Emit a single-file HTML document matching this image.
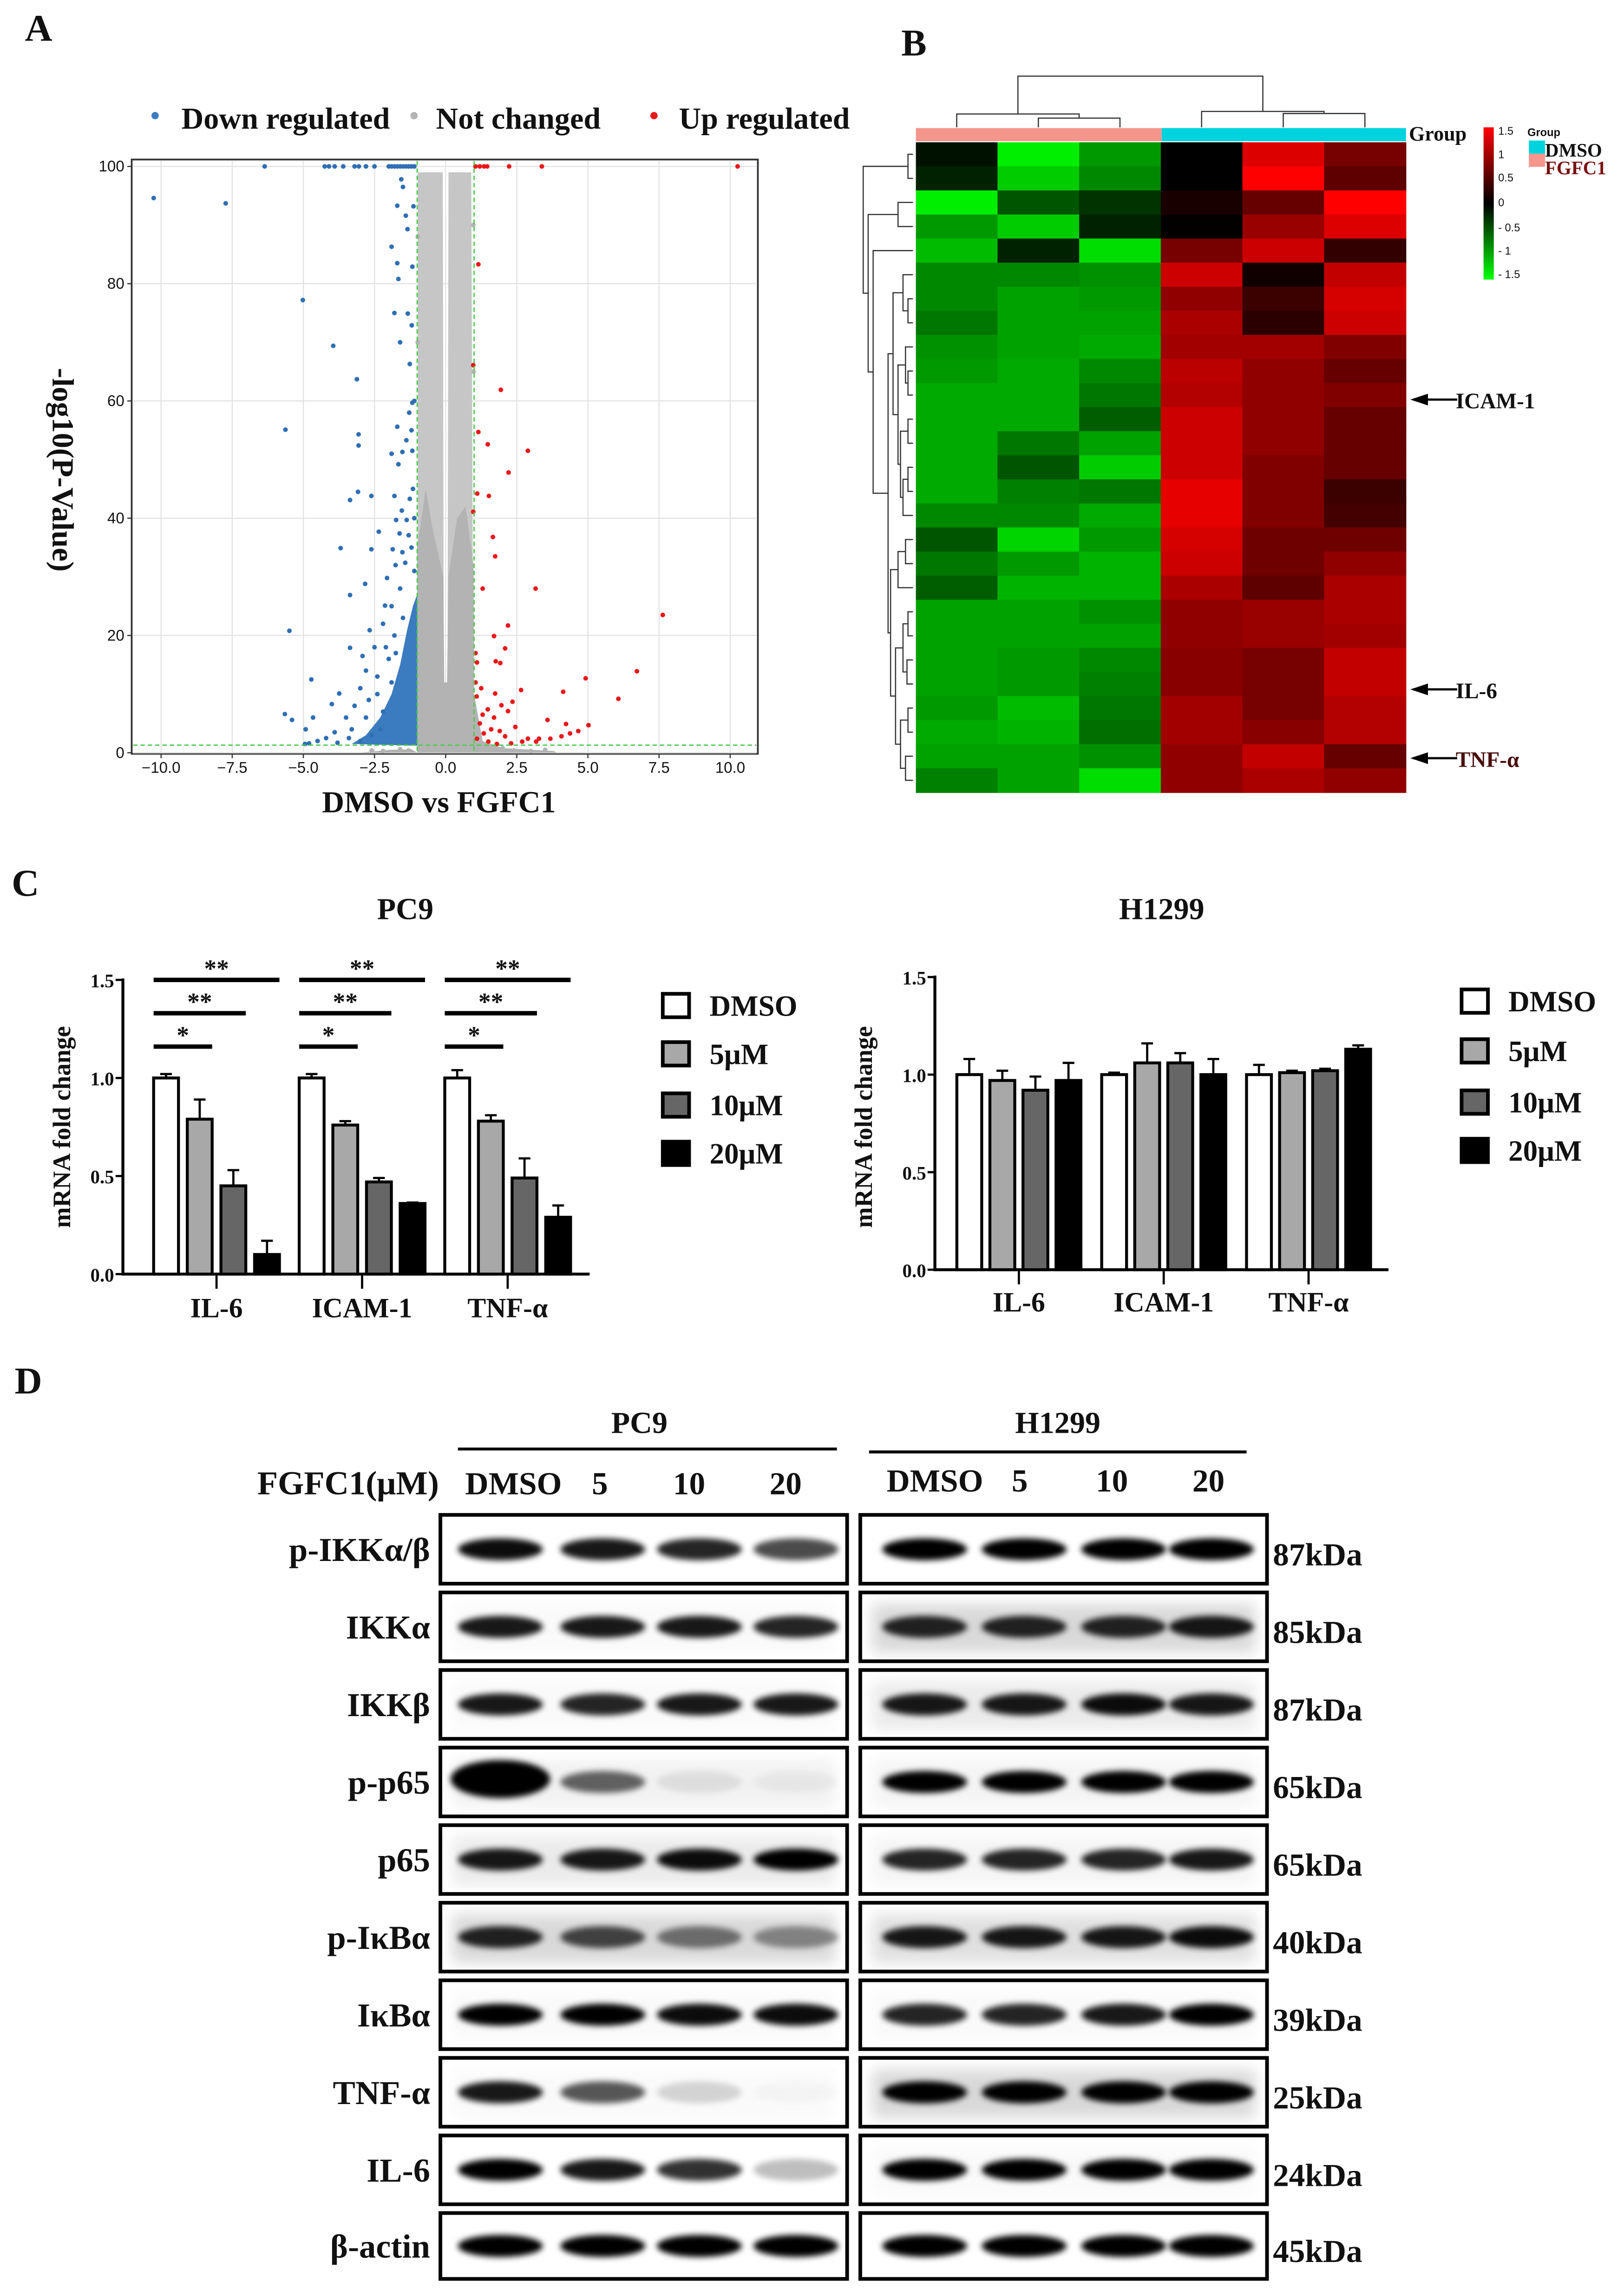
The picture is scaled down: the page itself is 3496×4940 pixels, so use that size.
<!DOCTYPE html>
<html><head><meta charset="utf-8"><title>FGFC1 figure</title>
<style>
html,body{margin:0;padding:0;background:#fff;}
svg{display:block;}
text{font-family:"Liberation Serif",serif;font-weight:bold;fill:#111;}
.sans{font-family:"Liberation Sans",sans-serif;font-weight:normal;}
</style></head>
<body>
<svg id="fig" xmlns="http://www.w3.org/2000/svg" width="3496" height="4940" viewBox="0 0 1110 1568" preserveAspectRatio="none">
<defs>
<filter id="blur" x="-30%" y="-80%" width="160%" height="260%"><feGaussianBlur stdDeviation="2"/></filter>
<filter id="blur2" x="-30%" y="-80%" width="160%" height="260%"><feGaussianBlur stdDeviation="5"/></filter>
<linearGradient id="cbar" x1="0" y1="0" x2="0" y2="1">
<stop offset="0" stop-color="#ff0000"/><stop offset="0.5" stop-color="#000"/><stop offset="1" stop-color="#00ff00"/>
</linearGradient>
</defs>
<rect x="0" y="0" width="1110" height="1568" fill="#fff"/>

<text x="17" y="28" font-size="26">A</text>
<text x="616" y="38" font-size="26">B</text>
<text x="8" y="612" font-size="26">C</text>
<text x="10" y="952" font-size="26">D</text>

<g id="panelA">
<rect x="90" y="109" width="428" height="406" fill="#fff" stroke="#333" stroke-width="1.2"/>
<g id="aGrid"></g>
<g id="aPoly"></g>
<g id="aPts"></g>
<g id="aThresh"></g>
<g id="aTicks"></g>
<text x="300" y="555" font-size="21" text-anchor="middle">DMSO vs FGFC1</text>
<text transform="translate(36,321) rotate(90)" font-size="21" text-anchor="middle">-log10(P-Value)</text>
<g>
<circle cx="106" cy="79" r="2.5" fill="#3b7bbf"/>
<text x="124" y="88" font-size="21">Down regulated</text>
<circle cx="283" cy="79" r="2.5" fill="#b3b3b3"/>
<text x="298" y="88" font-size="21">Not changed</text>
<circle cx="447" cy="79" r="2.5" fill="#e8191b"/>
<text x="464" y="88" font-size="21">Up regulated</text>
</g>
</g>

<g id="panelB">
<g id="bCells"></g>
<g id="bTop"></g>
<g id="bLeft"></g>
<rect x="626" y="87.5" width="168" height="9" fill="#f4968c"/>
<rect x="794" y="87.5" width="167" height="9" fill="#00d2de"/>
<text x="963" y="96" font-size="14">Group</text>
<rect x="1014" y="87" width="7" height="104" fill="url(#cbar)"/>
<g>
<text class="sans" x="1024" y="92" font-size="7.5">1.5</text>
<text class="sans" x="1024" y="108" font-size="7.5">1</text>
<text class="sans" x="1024" y="124" font-size="7.5">0.5</text>
<text class="sans" x="1024" y="141" font-size="7.5">0</text>
<text class="sans" x="1024" y="158" font-size="7.5">- 0.5</text>
<text class="sans" x="1024" y="174" font-size="7.5">- 1</text>
<text class="sans" x="1024" y="190" font-size="7.5">- 1.5</text>
</g>
<text class="sans" x="1044" y="93" font-size="7.5" style="font-weight:bold">Group</text>
<rect x="1045" y="96" width="11" height="9" fill="#00d2de"/>
<rect x="1045" y="105" width="11" height="9" fill="#f4968c"/>
<text x="1056" y="107" font-size="13">DMSO</text>
<text x="1056" y="119" font-size="13" style="fill:#7a1010">FGFC1</text>
<g>
<line x1="966" y1="273" x2="996" y2="273" stroke="#000" stroke-width="1.5"/>
<polygon points="964,273 976,269 976,277" fill="#000"/>
<text x="995" y="279" font-size="15">ICAM-1</text>
<line x1="966" y1="471" x2="996" y2="471" stroke="#000" stroke-width="1.5"/>
<polygon points="964,471 976,467 976,475" fill="#000"/>
<text x="995" y="477" font-size="15">IL-6</text>
<line x1="966" y1="518" x2="996" y2="518" stroke="#000" stroke-width="1.5"/>
<polygon points="964,518 976,514 976,522" fill="#000"/>
<text x="995" y="524" font-size="15" style="fill:#4a0c0c">TNF-α</text>
</g>
</g>

<g id="panelC">
<g id="cLeft"></g>
<g id="cRight"></g>
</g>

<g id="panelD">
<text x="437" y="979" font-size="21" text-anchor="middle">PC9</text>
<line x1="313" y1="990" x2="572" y2="990" stroke="#000" stroke-width="2"/>
<text x="723" y="979" font-size="21" text-anchor="middle">H1299</text>
<line x1="594" y1="992" x2="852" y2="992" stroke="#000" stroke-width="2"/>
<text x="300" y="1021" font-size="23" text-anchor="end">FGFC1(μM)</text>
<g id="dHead"></g>
<g id="dBlots"></g>
</g>
</svg>

<script>
const downPts = [[-10.26,94.6],[-7.73,93.7],[-5.02,77.2],[-3.95,69.4],[-3.12,63.7],[-5.63,55.1],[-3.06,54.3],[-3.06,52.4],[-3.08,44.5],[-3.36,43.1],[-2.61,43.8],[-2.35,37.7],[-3.69,34.9],[-2.61,34.7],[-2.83,28.8],[-3.36,26.9],[-5.49,20.8],[-2.13,25.1],[-2.67,20.9],[-3.36,17.9],[-2.92,16.5],[-4.72,12.5],[-3.74,10.1],[-4.0,8.3],[-5.65,6.6],[-5.4,5.6],[-4.66,6.0],[-4.92,4.0],[-4.94,1.5],
[-6.36,100],[-4.25,100],[-4.1,100],[-3.9,100],[-3.6,100],[-3.2,100],[-3.05,100],[-2.8,100],[-2.5,100],[-2.0,100],[-1.9,100],[-1.8,100],[-1.7,100],[-1.6,100],[-1.5,100],[-1.4,100],[-1.3,100],[-1.2,100],[-1.1,100],
[-1.9,86.3],[-1.7,83.5],[-1.66,80.8],[-1.7,93.3],[-1.4,91.6],[-1.34,89.3],[-1.56,97.8],[-1.5,96.5],[-1.8,75],[-1.33,74.9],[-1.6,70],[-1.19,72.9],[-1.17,82.9],[-1.13,93.2],[-1.26,66.3],[-1.17,59.7],[-1.28,58.0],[-1.7,55.6],[-1.2,55],[-1.38,53.3],[-1.9,51],[-1.52,51.3],[-1.66,49.2],[-1.17,51.5],[-1.8,43.8],[-1.26,43.3],[-1.54,41.3],[-1.74,39.7],[-1.37,39.7],[-1.62,37.4],[-1.3,37.1],[-1.86,34.7],[-1.52,34.2],[-1.76,32],[-1.42,32.4],[-2.06,29.8],[-1.1,60],[-1.15,45],[-1.1,40],[-1.2,35],[-1.1,31],
[-1.6,28],[-1.9,25],[-2.2,22],[-2.5,18],[-2.1,18],[-2.8,14],[-2.4,13],[-3.0,11],[-2.7,9],[-3.2,8],[-3.5,6],[-3.3,4],[-3.9,3.5],[-4.2,2.5],[-4.5,2],[-3.0,2],[-2.6,3],[-4.8,1.6],[-2.2,7],[-1.9,12],[-1.75,17],[-1.5,23],[-2.4,10],[-2.0,16],[-1.8,20],[-2.3,4],[-2.8,6],[-3.4,2.5],[-3.8,1.7]];
const upPts = [[10.26,100],[3.38,100],[2.23,100],[1.05,100],[1.2,100],[1.35,100],[1.46,100],[1.15,83.3],[0.97,66.1],[1.94,61.9],[1.15,54.7],[1.48,52.6],[2.89,51.5],[2.21,47.8],[1.11,44.2],[1.52,43.8],[0.97,41.1],[1.66,36.8],[1.74,33.5],[1.3,28.0],[3.16,28],[7.63,23.5],[2.19,21.7],[1.7,19.9],[2.09,17.8],[1.05,17],[1.76,15.6],[1.92,15.3],[1.1,15.4],[6.72,13.9],[4.92,12.7],[2.65,10.7],[4.13,10.4],[6.07,9.2],[1.74,10.1],[1.09,9.6],[2.35,8.7],[1.96,8.1],[1.48,7.4],[2.19,7.1],[1.3,6.5],[1.7,6.0],[3.58,5.6],[4.23,4.9],[5.02,4.7],[2.45,4.4],[4.66,3.7],[1.9,3.7],[4.07,2.8],[3.68,2.4],[3.18,1.9],[2.89,2.4],[2.09,2.8],[1.5,1.9],[1.1,2.4],[1.34,3.3],[2.69,1.9],[4.37,3.3],[3.28,2.4],[1.2,5],[1.6,4],[2.3,1.6],[1.8,1.5],[1.05,12],[1.25,11]];
const grayPts = [[-1.6,0.6],[-1.3,0.4],[-2.2,0.3],[1.5,0.5],[2.4,0.4],[3.0,0.3],[3.5,0.5],[2.0,0.8],[-2.6,0.4],[-0.98,70],[0.98,65],[-0.98,88],[0.97,90]];
const grayCore = [[-1.0,0],[-1.0,35],[-0.7,45],[-0.45,38],[-0.08,30],[-0.05,12],[0.05,12],[0.1,30],[0.4,40],[0.7,42],[0.98,32],[1.0,10],[1.3,2],[2.0,0.8],[3.8,0.3],[3.9,0],[-3.0,0],[-2.0,0.5],[-1.2,0.6]];
const grayUpperLeft = [[-0.98,0],[-0.98,99],[-0.1,99],[-0.06,0]];
const grayUpperRight = [[0.06,0],[0.1,99],[0.9,99],[0.98,0]];
const blueCore = [[-1.0,1.2],[-1.0,27],[-1.15,25],[-1.35,21],[-1.6,15],[-1.9,10],[-2.3,6],[-2.8,3],[-3.3,1.5]];
const xTicksA = [-10,-7.5,-5,-2.5,0,2.5,5,7.5,10];
const xTickLabelsA = ["−10.0","−7.5","−5.0","−2.5","0.0","2.5","5.0","7.5","10.0"];
const yTicksA = [0,20,40,60,80,100];

const heatVals = [
[-0.1,-1.4,-0.9,0,1.3,0.7],
[-0.2,-1.2,-0.8,0,1.5,0.55],
[-1.4,-0.5,-0.3,0.15,0.6,1.5],
[-0.9,-1.2,-0.2,0.02,0.9,1.3],
[-1.1,-0.2,-1.3,0.7,1.2,0.3],
[-0.8,-0.8,-0.85,1.2,0.1,1.15],
[-0.8,-0.95,-0.9,0.85,0.35,1.25],
[-0.7,-0.95,-0.95,1.0,0.25,1.2],
[-0.85,-0.95,-1.0,0.95,0.95,0.75],
[-0.9,-1.0,-0.8,1.1,0.85,0.6],
[-1.0,-1.0,-0.7,1.05,0.85,0.75],
[-1.0,-1.0,-0.55,1.2,0.85,0.6],
[-1.0,-0.7,-0.95,1.2,0.85,0.6],
[-1.0,-0.5,-1.2,1.2,0.75,0.6],
[-1.0,-0.75,-0.7,1.35,0.75,0.35],
[-0.8,-0.8,-1.0,1.35,0.75,0.4],
[-0.5,-1.25,-0.9,1.25,0.65,0.65],
[-0.7,-0.9,-1.05,1.2,0.65,0.85],
[-0.55,-1.05,-1.05,1.0,0.55,1.0],
[-0.95,-0.95,-0.85,0.85,0.9,1.0],
[-0.95,-0.95,-0.95,0.85,0.9,0.95],
[-0.95,-0.9,-0.8,0.8,0.7,1.15],
[-0.95,-0.9,-0.75,0.8,0.7,1.15],
[-0.9,-1.1,-0.7,0.95,0.7,1.05],
[-1.0,-1.05,-0.65,0.95,0.8,1.05],
[-0.95,-0.95,-0.85,0.85,1.15,0.6],
[-0.75,-0.95,-1.3,0.85,1.0,0.85]];
const colTree = [10, [2.6,0,[1.8,1,2]], [3.1,3,[2.7,4,5]]];
const rowTree = [10,[1,0,1],[9,[3,2,3],[8,4,[5,
 [4,[2,5,[1,6,7]],[3,[1.5,8,[1,9,10]],[2.5,[1,11,12],[2,[1,13,14],15]]]],
 [4.5,[3,[1.5,16,17],18],[3.5,[2,[1,19,20],[1.2,21,22]],[2.5,[1,23,24],[1.5,25,26]]]]
]]]];

const genes = ["IL-6","ICAM-1","TNF-α"];
const doses = ["DMSO","5μM","10μM","20μM"];
const pc9Means = [[1.0,0.79,0.45,0.10],[1.0,0.76,0.47,0.36],[1.0,0.78,0.49,0.29]];
const pc9Errs  = [[0.02,0.10,0.08,0.07],[0.02,0.02,0.02,0.005],[0.04,0.03,0.10,0.06]];
const h1299Means = [[1.0,0.97,0.92,0.97],[1.0,1.06,1.06,1.0],[1.0,1.01,1.02,1.13]];
const h1299Errs  = [[0.08,0.05,0.07,0.09],[0.01,0.10,0.05,0.08],[0.05,0.01,0.01,0.02]];
const yTicksC = [0,0.5,1.0,1.5];
const yTickLabelsC = ["0.0","0.5","1.0","1.5"];
const sigLevels = [1.5,1.33,1.16];
const sigLabels = ["**","**","*"];
const sigTargets = [3,2,1];

const blotRows = ["p-IKKα/β","IKKα","IKKβ","p-p65","p65","p-IκBα","IκBα","TNF-α","IL-6","β-actin"];
const blotKDa = ["87kDa","85kDa","87kDa","65kDa","65kDa","40kDa","39kDa","25kDa","24kDa","45kDa"];
const laneLabels = ["DMSO","5","10","20"];
const pc9Bands = [[0.95,0.9,0.85,0.7],[0.9,0.9,0.9,0.85],[0.9,0.85,0.9,0.9],[1.0,0.6,0.08,0.04],[0.9,0.9,0.95,1.0],[0.85,0.7,0.5,0.4],[1.0,1.0,0.95,0.95],[0.9,0.65,0.15,0.02],[1.0,0.9,0.8,0.25],[1.0,1.0,1.0,1.0]];
const h1299Bands = [[1,1,1,1],[0.85,0.85,0.85,0.9],[0.9,0.9,0.95,0.9],[1,1,1,1],[0.85,0.85,0.85,0.9],[0.9,0.9,0.9,0.95],[0.85,0.85,0.9,1.0],[1,1,1,1],[1,1,1,1],[1,1,1,1]];
const pc9Bg = [0.0,0.02,0.02,0.05,0.08,0.15,0.02,0.02,0.0,0.0];
const h1299Bg = [0.0,0.15,0.08,0.04,0.04,0.12,0.02,0.15,0.02,0.0];

const NS = "http://www.w3.org/2000/svg";
function mk(tag, attrs, parent){ const e=document.createElementNS(NS,tag); for(const k in attrs) e.setAttribute(k,attrs[k]); parent.appendChild(e); return e; }
function txt(str, attrs, parent){ const e=mk("text",attrs,parent); e.textContent=str; return e; }

(function(){
  const xA = v => 304.6 + v*19.45;
  const yA = v => 514.3 - v*4.006;
  const grid = document.getElementById("aGrid");
  xTicksA.forEach(t=>{ const l=mk("line",{x1:xA(t),x2:xA(t),y1:110,y2:514,stroke:"#e3e3e3","stroke-width":0.8},grid);
      });
  yTicksA.forEach(t=>{ const l=mk("line",{x1:91,x2:517,y1:yA(t),y2:yA(t),stroke:"#e3e3e3","stroke-width":0.8},grid);
      });
  const poly = document.getElementById("aPoly");
  function drawPoly(arr, fill, name){ const p=mk("polygon",{points:arr.map(d=>xA(d[0])+","+yA(d[1])).join(" "),fill:fill},poly);
      }
  drawPoly(grayUpperLeft,"#c6c6c6","not-changed-density-left-column");
  drawPoly(grayUpperRight,"#c6c6c6","not-changed-density-right-column");
  drawPoly(grayCore,"#b3b3b3","not-changed-density-core");
  drawPoly(blueCore,"#3b7bbf","down-regulated-density");
  const g = document.getElementById("aPts");
  grayPts.forEach(d=>{ const c=mk("circle",{cx:xA(d[0]),cy:yA(d[1]),r:1.6,fill:"#b3b3b3"},g);
      });
  downPts.forEach(d=>{ const c=mk("circle",{cx:xA(d[0]),cy:yA(d[1]),r:1.6,fill:"#2f6fb4"},g);
      });
  upPts.forEach(d=>{ const c=mk("circle",{cx:xA(d[0]),cy:yA(d[1]),r:1.6,fill:"#e8191b"},g);
      });
  const th = document.getElementById("aThresh");
  [-1,1].forEach(v=>{ const l=mk("line",{x1:xA(v),x2:xA(v),y1:110,y2:514,stroke:"#4cc94c","stroke-width":0.9,"stroke-dasharray":"3,2"},th);
      });
  const hl=mk("line",{x1:91,x2:517,y1:yA(1.3),y2:yA(1.3),stroke:"#4cc94c","stroke-width":0.9,"stroke-dasharray":"3,2"},th);
   
  const tk = document.getElementById("aTicks");
  xTicksA.forEach((t,i)=>{ const l=mk("line",{x1:xA(t),x2:xA(t),y1:515,y2:518,stroke:"#333","stroke-width":0.8},tk);
     
    const e=txt(xTickLabelsA[i],{x:xA(t),y:528,"font-size":10.5,"text-anchor":"middle","class":"sans"},tk);
      });
  yTicksA.forEach(t=>{ const l=mk("line",{x1:87,x2:90,y1:yA(t),y2:yA(t),stroke:"#333","stroke-width":0.8},tk);
     
    const e=txt(String(t),{x:85,y:yA(t)+3.5,"font-size":10.5,"text-anchor":"end","class":"sans"},tk);
      });
})();

(function(){
  const x0=626, cw=55.8, y0=97.2, rh=16.45;
  function color(v){ const t=Math.min(1,Math.abs(v)/1.5); const c=Math.round(255*t); return v<0?`rgb(0,${c},0)`:`rgb(${c},0,0)`; }
  const cells=document.getElementById("bCells");
  heatVals.forEach((row,r)=>row.forEach((v,c)=>{
    const e=mk("rect",{x:x0+c*cw,y:y0+r*rh,width:cw+0.4,height:rh+0.4,fill:color(v)},cells);
     
  }));
  const top=document.getElementById("bTop");
  const colY = h => 87 - h*3.5;
  function drawCol(n){ if(typeof n==="number") return {x:x0+(n+0.5)*cw, y:87};
    const a=drawCol(n[1]), b=drawCol(n[2]), y=colY(n[0]);
    const p=mk("path",{d:`M${a.x},${a.y}V${y}H${b.x}V${b.y}`,fill:"none",stroke:"#333","stroke-width":0.8},top);
     
    return {x:(a.x+b.x)/2, y:y}; }
  drawCol(colTree);
  const left=document.getElementById("bLeft");
  const rowX = h => 624 - h*3.4;
  function drawRow(n){ if(typeof n==="number") return {y:y0+(n+0.5)*rh, x:624};
    const a=drawRow(n[1]), b=drawRow(n[2]), x=rowX(n[0]);
    const p=mk("path",{d:`M${a.x},${a.y}H${x}V${b.y}H${b.x}`,fill:"none",stroke:"#333","stroke-width":0.8},left);
     
    return {y:(a.y+b.y)/2, x:x}; }
  drawRow(rowTree);
})();

function barChart(gid, means, errs, cfg){
  const g=document.getElementById(gid);
  const yC = v => cfg.y0 - v*cfg.ys;
  const fills=["#ffffff","#a8a8a8","#666666","#000000"];
  const ya=mk("line",{x1:cfg.ax,x2:cfg.ax,y1:yC(1.5)-1,y2:yC(0)+1,stroke:"#000","stroke-width":2},g);
   
  const xa=mk("line",{x1:cfg.ax,x2:cfg.axEnd,y1:yC(0),y2:yC(0),stroke:"#000","stroke-width":2},g);
   
  yTicksC.forEach((t,i)=>{ const l=mk("line",{x1:cfg.ax-5,x2:cfg.ax,y1:yC(t),y2:yC(t),stroke:"#000","stroke-width":1.5},g);
     
    const e=txt(yTickLabelsC[i],{x:cfg.ax-6,y:yC(t)+5,"font-size":13,"text-anchor":"end"},g);
      });
  genes.forEach((gn,gi)=>{
    const gx=cfg.gx0+gi*cfg.gstep;
    means[gi].forEach((v,di)=>{
      const bx=gx+di*cfg.bstep;
      const r=mk("rect",{x:bx,y:yC(v),width:cfg.bw,height:yC(0)-yC(v),fill:fills[di],stroke:"#000","stroke-width":2},g);
      
      
      const cx=bx+cfg.bw/2, ye=yC(v+errs[gi][di]);
      const eb=mk("path",{d:`M${cx},${yC(v)}V${ye}M${cx-4},${ye}H${cx+4}`,stroke:"#000","stroke-width":1.5,fill:"none"},g);
       
    });
    const cxg=gx+(3*cfg.bstep+cfg.bw)/2;
    const t=mk("line",{x1:cxg,x2:cxg,y1:yC(0),y2:yC(0)+10,stroke:"#000","stroke-width":1.5},g);
     
    const lab=txt(gn,{x:cxg,y:cfg.labY,"font-size":19,"text-anchor":"middle"},g);
     
    if(cfg.sig){
      sigLevels.forEach((lv,si)=>{
        const x1=gx, x2=gx+sigTargets[si]*cfg.bstep+cfg.bw;
        const ln=mk("line",{x1:x1,x2:x2,y1:yC(lv),y2:yC(lv),stroke:"#000","stroke-width":3},g);
         
        const st=txt(sigLabels[si],{x:(x1+x2)/2,y:yC(lv)-2,"font-size":17,"text-anchor":"middle"},g);
         
      });
    }
  });
  const ti=txt(cfg.title,{x:cfg.titleX,y:628,"font-size":21,"text-anchor":"middle"},g);
   
  const yl=txt("mRNA fold change",{transform:`translate(${cfg.ylX},770) rotate(-90)`,"font-size":17,"text-anchor":"middle"},g);
   
  cfg.legY.forEach((ly,di)=>{
    const r=mk("rect",{x:cfg.legX,y:ly-8,width:18,height:16,fill:fills[di],stroke:"#000","stroke-width":2.5},g);
     
    const e=txt(doses[di],{x:cfg.legX+32,y:ly+7,"font-size":20},g);
     
  });
}
barChart("cLeft", pc9Means, pc9Errs, {y0:870.5, ys:134, ax:84, axEnd:403, gx0:105, gstep:99.5, bstep:23, bw:17, labY:900, sig:true, title:"PC9", titleX:277, ylX:48, legX:453, legY:[687,720,755,788]});
barChart("cRight", h1299Means, h1299Errs, {y0:867.5, ys:133.3, ax:639, axEnd:949, gx0:654, gstep:99, bstep:22.6, bw:17, labY:896, sig:false, title:"H1299", titleX:794, ylX:596, legX:999, legY:[684,718,753,786]});

(function(){
  const head=document.getElementById("dHead");
  const lx=[318,410,471,537], rx=[606,697,760,826];
  laneLabels.forEach((l,i)=>{
    const a=txt(l,{x:lx[i],y:1021,"font-size":22,"text-anchor":i===0?"start":"middle"},head);
     
    const b=txt(l,{x:rx[i],y:1019,"font-size":22,"text-anchor":i===0?"start":"middle"},head);
     
  });
  const g=document.getElementById("dBlots");
  const laneL=[342,412,478,544], laneR=[632,700,768,828];
  blotRows.forEach((name,r)=>{
    const top=1035+r*53, h=(r===9?45:47), cy=top+h/2;
    const lab=txt(name,{x:294,y:cy+8,"font-size":23,"text-anchor":"end"},g);
     
    const kd=txt(blotKDa[r],{x:870,y:cy+11,"font-size":22},g);
     
    [[301,pc9Bands,laneL,pc9Bg,"pc9"],[588,h1299Bands,laneR,h1299Bg,"h1299"]].forEach(([bx,bands,lanes,bg,cl])=>{
      const box=mk("rect",{x:bx,y:top,width:278,height:h,fill:"#fff"},g);
       
      const bgr=mk("rect",{x:bx+8,y:top+8,width:262,height:h-14,fill:"#000",opacity:bg[r],filter:"url(#blur2)"},g);
       
      bands[r].forEach((v,li)=>{
        const big = v>=0.95 && r===3 && cl==="pc9";
        const e=mk("ellipse",{cx:lanes[li],cy:cy-(big?2:0),rx:big?34:29,ry:big?13:7.5,fill:"#000",opacity:v,filter:"url(#blur)"},g);
         
      });
      const fr=mk("rect",{x:bx,y:top,width:278,height:h,fill:"none",stroke:"#000","stroke-width":2.5},g);
       
    });
  });
})();
</script>
</body></html>
